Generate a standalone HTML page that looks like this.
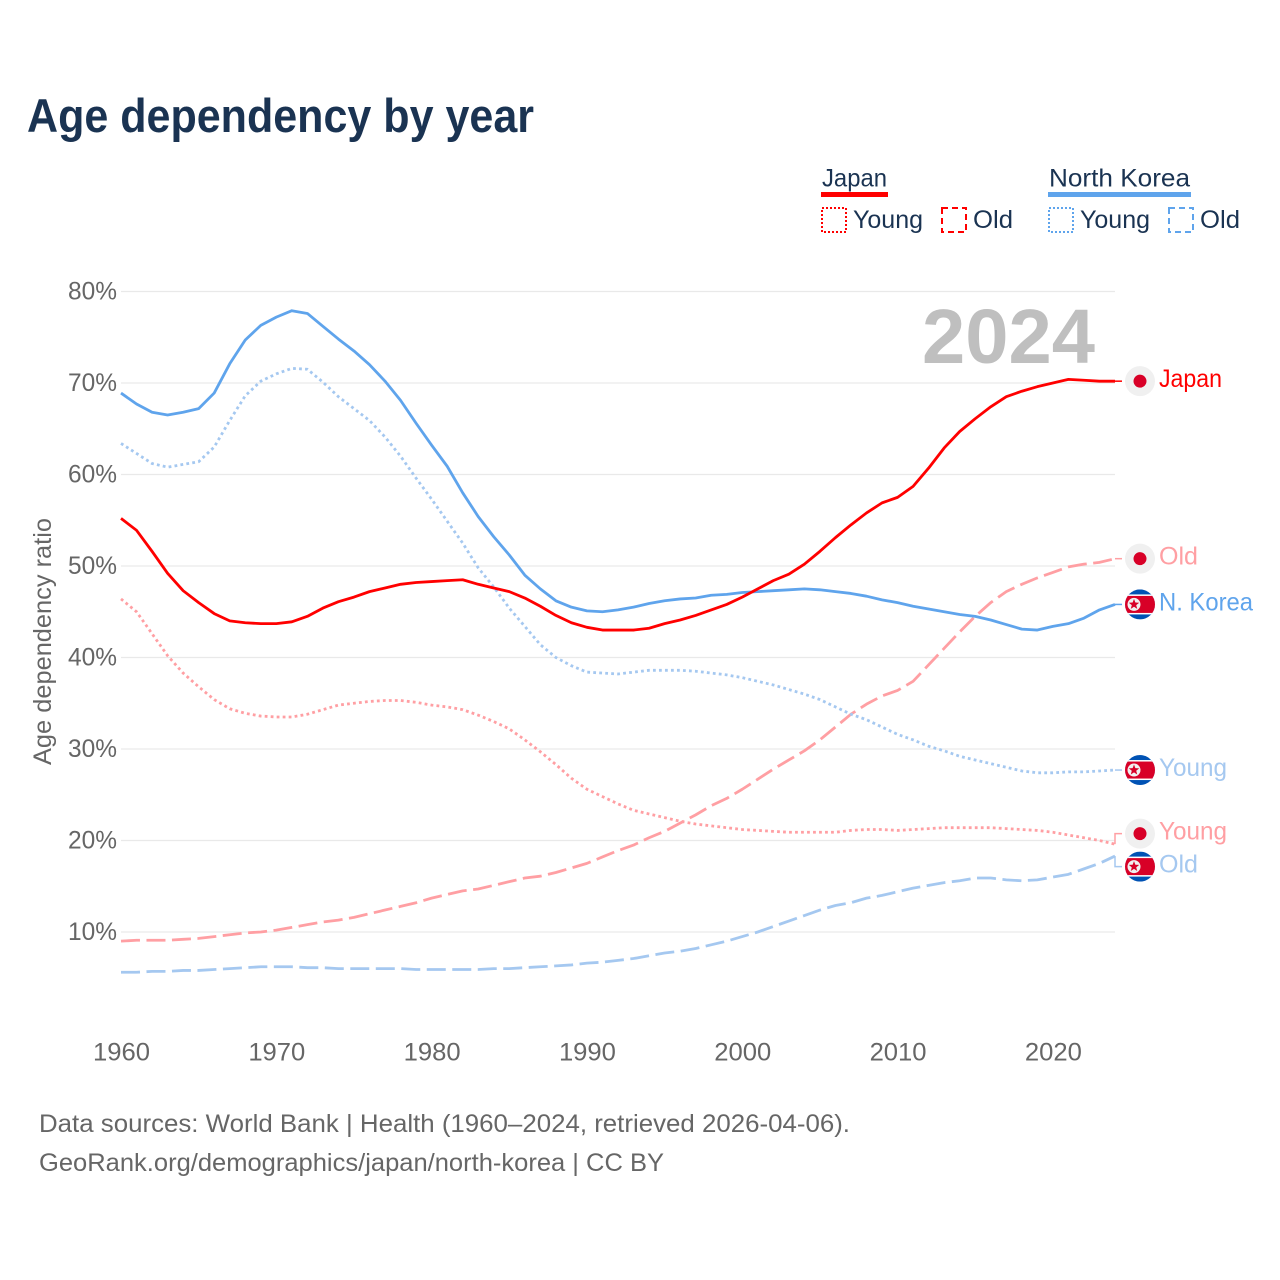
<!DOCTYPE html>
<html lang="en">
<head>
<meta charset="utf-8">
<title>Age dependency by year</title>
<style>
  html, body { margin: 0; padding: 0; background: #fff; }
  svg { display: block; font-family: "Liberation Sans", sans-serif; }
  .legend-text { fill: #1a3352; font-size: 25px; }
  .axis-text { fill: #666; font-size: 25px; }
</style>
</head>
<body>
<svg id="chart" xmlns="http://www.w3.org/2000/svg" width="1280" height="1280" viewBox="0 0 1280 1280">
  <rect width="1280" height="1280" fill="#fff"/>
  <text x="27" y="132" font-size="47" font-weight="700" fill="#1a3352" textLength="507" lengthAdjust="spacingAndGlyphs">Age dependency by year</text>

  <g>
    <g>
      <text class="legend-text" x="822" y="186.5" textLength="65" lengthAdjust="spacingAndGlyphs">Japan</text>
      <rect x="821" y="192" width="67" height="5" fill="#ff0000"/>
      <rect x="822" y="208" width="24" height="24" fill="none" stroke="#ff0000" stroke-width="2" stroke-dasharray="2 2"/>
      <text class="legend-text" x="853" y="228" textLength="70" lengthAdjust="spacingAndGlyphs">Young</text>
      <rect x="942" y="208" width="24" height="24" fill="none" stroke="#ff0000" stroke-width="2" stroke-dasharray="6 4"/>
      <text class="legend-text" x="973" y="228" textLength="40" lengthAdjust="spacingAndGlyphs">Old</text>
    </g>
    <g>
      <text class="legend-text" x="1049" y="186.5" textLength="141" lengthAdjust="spacingAndGlyphs">North Korea</text>
      <rect x="1048" y="192" width="143" height="5" fill="#5fa4ec"/>
      <rect x="1049" y="208" width="24" height="24" fill="none" stroke="#5fa4ec" stroke-width="2" stroke-dasharray="2 2"/>
      <text class="legend-text" x="1080" y="228" textLength="70" lengthAdjust="spacingAndGlyphs">Young</text>
      <rect x="1169" y="208" width="24" height="24" fill="none" stroke="#5fa4ec" stroke-width="2" stroke-dasharray="6 4"/>
      <text class="legend-text" x="1200" y="228" textLength="40" lengthAdjust="spacingAndGlyphs">Old</text>
    </g>
  </g>

  <g id="grid"></g>
  <g id="y-ticks"></g>
  <g id="x-ticks"></g>
  <text class="axis-text" transform="translate(51,765) rotate(-90)" x="0" y="0" textLength="247" lengthAdjust="spacingAndGlyphs">Age dependency ratio</text>
  <text x="922" y="363" font-size="77" font-weight="700" fill="#bfbfbf" textLength="173" lengthAdjust="spacingAndGlyphs">2024</text>
  <g id="series"></g>
  <g id="end-labels"></g>

  <text class="axis-text" x="39" y="1132" textLength="811" lengthAdjust="spacingAndGlyphs">Data sources: World Bank | Health (1960–2024, retrieved 2026-04-06).</text>
  <text class="axis-text" x="39" y="1171" textLength="625" lengthAdjust="spacingAndGlyphs">GeoRank.org/demographics/japan/north-korea | CC BY</text>
</svg>
<script>
const years = [1960,1961,1962,1963,1964,1965,1966,1967,1968,1969,1970,1971,1972,1973,1974,1975,1976,1977,1978,1979,1980,1981,1982,1983,1984,1985,1986,1987,1988,1989,1990,1991,1992,1993,1994,1995,1996,1997,1998,1999,2000,2001,2002,2003,2004,2005,2006,2007,2008,2009,2010,2011,2012,2013,2014,2015,2016,2017,2018,2019,2020,2021,2022,2023,2024];
const japanTotal = [55.2,53.9,51.6,49.2,47.3,46.0,44.8,44.0,43.8,43.7,43.7,43.9,44.5,45.4,46.1,46.6,47.2,47.6,48.0,48.2,48.3,48.4,48.5,48.0,47.6,47.2,46.5,45.6,44.6,43.8,43.3,43.0,43.0,43.0,43.2,43.7,44.1,44.6,45.2,45.8,46.6,47.5,48.4,49.1,50.2,51.6,53.1,54.5,55.8,56.9,57.5,58.7,60.7,62.9,64.7,66.1,67.4,68.5,69.1,69.6,70.0,70.4,70.3,70.2,70.2];
const japanYoung = [46.4,45.0,42.6,40.2,38.3,36.8,35.4,34.4,33.9,33.6,33.5,33.5,33.8,34.3,34.8,35.0,35.2,35.3,35.3,35.1,34.8,34.6,34.3,33.7,33.0,32.2,31.0,29.7,28.3,26.8,25.6,24.8,24.0,23.3,22.9,22.5,22.1,21.8,21.6,21.4,21.2,21.1,21.0,20.9,20.9,20.9,20.9,21.1,21.2,21.2,21.1,21.2,21.3,21.4,21.4,21.4,21.4,21.3,21.2,21.1,20.9,20.6,20.3,20.0,19.6];
const japanOld = [9.0,9.1,9.1,9.1,9.2,9.3,9.5,9.7,9.9,10.0,10.2,10.5,10.8,11.1,11.3,11.6,12.0,12.4,12.8,13.2,13.7,14.1,14.5,14.7,15.1,15.5,15.9,16.1,16.5,17.0,17.5,18.2,18.9,19.5,20.3,21.0,21.9,22.8,23.8,24.6,25.6,26.7,27.8,28.8,29.8,31.0,32.4,33.8,34.9,35.8,36.4,37.4,39.2,41.0,42.8,44.5,46.0,47.2,48.0,48.7,49.3,49.9,50.2,50.4,50.8];
const koreaTotal = [68.9,67.7,66.8,66.5,66.8,67.2,68.9,72.1,74.7,76.3,77.2,77.9,77.6,76.2,74.8,73.5,72.0,70.2,68.1,65.6,63.2,60.9,58.0,55.4,53.2,51.2,49.0,47.5,46.2,45.5,45.1,45.0,45.2,45.5,45.9,46.2,46.4,46.5,46.8,46.9,47.1,47.2,47.3,47.4,47.5,47.4,47.2,47.0,46.7,46.3,46.0,45.6,45.3,45.0,44.7,44.5,44.1,43.6,43.1,43.0,43.4,43.7,44.3,45.2,45.8];
const koreaYoung = [63.4,62.3,61.2,60.8,61.1,61.4,63.0,65.9,68.6,70.2,71.0,71.6,71.5,70.1,68.5,67.2,65.9,64.1,62.0,59.6,57.3,54.9,52.5,49.8,47.7,45.4,43.4,41.4,40.0,39.1,38.4,38.3,38.2,38.4,38.6,38.6,38.6,38.5,38.3,38.1,37.8,37.4,37.0,36.5,36.0,35.4,34.6,33.8,33.2,32.4,31.6,31.0,30.3,29.8,29.2,28.8,28.4,28.0,27.6,27.4,27.4,27.5,27.5,27.6,27.7];
const koreaOld = [5.6,5.6,5.7,5.7,5.8,5.8,5.9,6.0,6.1,6.2,6.2,6.2,6.1,6.1,6.0,6.0,6.0,6.0,6.0,5.9,5.9,5.9,5.9,5.9,6.0,6.0,6.1,6.2,6.3,6.4,6.6,6.7,6.9,7.1,7.4,7.7,7.9,8.2,8.6,9.0,9.5,10.0,10.6,11.2,11.8,12.4,12.9,13.2,13.7,14.0,14.4,14.8,15.1,15.4,15.6,15.9,15.9,15.7,15.6,15.7,16.0,16.3,16.9,17.5,18.3];
const yTickValues = [10,20,30,40,50,60,70,80];
const yTickLabels = ["10%","20%","30%","40%","50%","60%","70%","80%"];
const xTickValues = [1960,1970,1980,1990,2000,2010,2020];
const xTickLabels = ["1960","1970","1980","1990","2000","2010","2020"];

const SVG_NS = "http://www.w3.org/2000/svg";
const plot = { left: 121, right: 1115, yZero: 1023.5, pxPerUnit: 9.15 };
const x = year => plot.left + (year - years[0]) * (plot.right - plot.left) / (years[years.length - 1] - years[0]);
const y = value => plot.yZero - value * plot.pxPerUnit;

function make(parent, tag, attrs, text) {
  const el = document.createElementNS(SVG_NS, tag);
  for (const key in attrs) el.setAttribute(key, attrs[key]);
  if (text !== undefined) el.textContent = text;
  parent.appendChild(el);
  return el;
}

const gridGroup = document.getElementById("grid");
const yTickGroup = document.getElementById("y-ticks");
yTickValues.forEach((v, i) => {
  const line = make(gridGroup, "line", { x1: plot.left, x2: plot.right, y1: y(v), y2: y(v), stroke: "#e9e9e9", "stroke-width": 1.3 });
  
  
  const label = make(yTickGroup, "text", { x: 68, y: y(v) + 8, class: "axis-text", textLength: 49, lengthAdjust: "spacingAndGlyphs" }, yTickLabels[i]);
  
  
});

const xTickGroup = document.getElementById("x-ticks");
xTickValues.forEach((v, i) => {
  const label = make(xTickGroup, "text", { x: x(v) - 28, y: 1060.5, class: "axis-text", textLength: 57, lengthAdjust: "spacingAndGlyphs" }, xTickLabels[i]);
  
  
});

const DOTTED = "2.8 3.2";
const DASHED = "19 6.5";
const RED = "#ff0000", BLUE = "#5fa4ec", PINK = "#ff9fa3", SKY = "#a5c8f0";
const seriesList = [
  { key: "north-korea-old", values: koreaOld, color: SKY, dash: DASHED, label: "Old", width: 39, flag: "kp" },
  { key: "japan-old", values: japanOld, color: PINK, dash: DASHED, label: "Old", width: 39, flag: "jp" },
  { key: "north-korea-young", values: koreaYoung, color: SKY, dash: DOTTED, label: "Young", width: 68, flag: "kp" },
  { key: "japan-young", values: japanYoung, color: PINK, dash: DOTTED, label: "Young", width: 68, flag: "jp" },
  { key: "north-korea-total", values: koreaTotal, color: BLUE, dash: "", label: "N. Korea", width: 94, flag: "kp" },
  { key: "japan-total", values: japanTotal, color: RED, dash: "", label: "Japan", width: 63, flag: "jp" }
];

const seriesGroup = document.getElementById("series");
seriesList.forEach(s => {
  const d = s.values.map((v, i) => (i ? "L" : "M") + x(years[i]).toFixed(2) + " " + y(v).toFixed(2)).join(" ");
  const path = make(seriesGroup, "path", { d: d, fill: "none", stroke: s.color, "stroke-width": 2.8, "stroke-linejoin": "round", "stroke-dasharray": s.dash || "none" });
  
  
});

/* Dodge end labels: overlapping labels spread around their shared centre. */
const MIN_GAP = 33;
const placed = seriesList.map(s => ({ s: s, raw: y(s.values[s.values.length - 1]) })).sort((a, b) => a.raw - b.raw);
placed.forEach(p => { p.pos = p.raw; });
for (let i = 1; i < placed.length; i++) {
  if (placed[i].pos - placed[i - 1].pos < MIN_GAP) {
    const mid = (placed[i].pos + placed[i - 1].pos) / 2;
    placed[i - 1].pos = mid - MIN_GAP / 2;
    placed[i].pos = mid + MIN_GAP / 2;
  }
}

const labelGroup = document.getElementById("end-labels");
const defs = make(labelGroup, "defs", {});
const flagClip = make(defs, "clipPath", { id: "flag-clip" });
make(flagClip, "circle", { cx: 0, cy: 0, r: 15 });

function starPoints(r) {
  const pts = [];
  for (let i = 0; i < 10; i++) {
    const rad = i % 2 ? r * 0.42 : r;
    const a = -Math.PI / 2 + i * Math.PI / 5;
    pts.push((rad * Math.cos(a)).toFixed(2) + "," + (rad * Math.sin(a)).toFixed(2));
  }
  return pts.join(" ");
}

function drawFlag(group, kind) {
  if (kind === "jp") {
    make(group, "circle", { cx: 0, cy: 0, r: 15, fill: "#f0f0f0" });
    make(group, "circle", { cx: 0, cy: 0, r: 6.5, fill: "#d80027" });
    return;
  }
  const inner = make(group, "g", { "clip-path": "url(#flag-clip)" });
  make(inner, "rect", { x: -15, y: -15, width: 30, height: 30, fill: "#0052b4" });
  make(inner, "rect", { x: -15, y: -10, width: 30, height: 20, fill: "#fff" });
  make(inner, "rect", { x: -15, y: -8.5, width: 30, height: 17, fill: "#d80027" });
  make(inner, "circle", { cx: -6, cy: 0, r: 6.5, fill: "#f0f0f0" });
  make(inner, "polygon", { points: starPoints(5.5), transform: "translate(-6,0)", fill: "#d80027" });
}

placed.forEach(p => {
  const s = p.s;
  const g = make(labelGroup, "g", {});
  
  

  const connector = make(g, "polyline", {
    points: plot.right + "," + p.raw + " " + plot.right + "," + p.pos + " 1122," + p.pos,
    fill: "none", stroke: s.color, "stroke-width": 1.5
  });
  
  

  const flag = make(g, "g", { transform: "translate(1140," + p.pos + ")" });
  
  
  drawFlag(flag, s.flag);

  const text = make(g, "text", { x: 1159, y: p.pos + 6, "font-size": 25, fill: s.color, textLength: s.width, lengthAdjust: "spacingAndGlyphs" }, s.label);
  
  
});
</script>
</body>
</html>
